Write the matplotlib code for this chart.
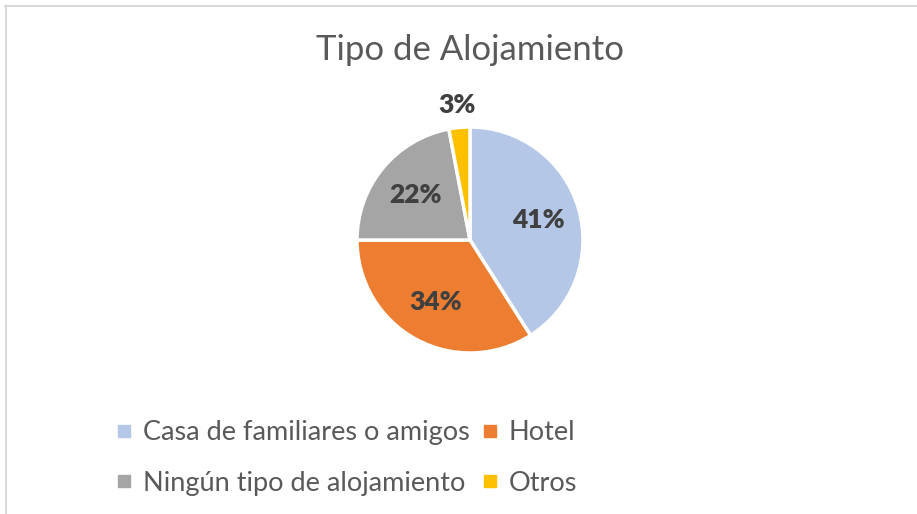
import matplotlib
matplotlib.use("Agg")
import matplotlib.pyplot as plt
from matplotlib.lines import Line2D
import numpy as np

categories = ["Casa de familiares o amigos", "Hotel", "Ningún tipo de alojamiento", "Otros"]
values = [41, 34, 22, 3]
colors = ["#B4C7E7", "#ED7D31", "#A5A5A5", "#FFC000"]
title = "Tipo de Alojamiento"

plt.rcParams['font.family'] = ['Lato', 'DejaVu Sans']

W, H = 917, 514
fig = plt.figure(figsize=(W / 100, H / 100), dpi=100)

# chart border (top and left visible)
fig.add_artist(Line2D([5 / W, 1], [1 - 5.5 / H, 1 - 5.5 / H], color="#D9D9D9", lw=1.5))
fig.add_artist(Line2D([5.5 / W, 5.5 / W], [0, 1 - 5.5 / H], color="#D9D9D9", lw=1.5))

cx, cy, r = 470, 240, 113
ax = fig.add_axes([(cx - r) / W, (H - cy - r) / H, 2 * r / W, 2 * r / H])
wedges, texts, autotexts = ax.pie(
    values, colors=colors, startangle=90, counterclock=False, radius=1,
    autopct=lambda p: f"{p:.0f}%", pctdistance=0.63,
    wedgeprops=dict(edgecolor="white", linewidth=2.5),
    textprops=dict(color="#404040", fontsize=19, fontweight="heavy"))
ax.set_xlim(-1, 1)
ax.set_ylim(-1, 1)
ax.set_aspect("equal")
ax.axis("off")

# small slice label outside
total = sum(values)
for w, t, v in zip(wedges, autotexts, values):
    if v / total < 0.05:
        ang = np.deg2rad((w.theta1 + w.theta2) / 2)
        t.set_position((1.2 * np.cos(ang), 1.2 * np.sin(ang)))

fig.text(470 / W, 1 - 50 / H, title, ha="center", va="center", fontsize=25, color="#595959")

order = [0, 2, 1, 3]
handles = [Line2D([], [], marker="s", linestyle="none", markersize=8,
                  markerfacecolor=colors[i], markeredgecolor=colors[i]) for i in order]
labels = [categories[i] for i in order]
leg = fig.legend(handles, labels, loc="center left", bbox_to_anchor=(117 / W, 1 - 458 / H),
                 ncol=2, frameon=False, fontsize=19.5, labelcolor="#595959",
                 handlelength=0.5, handletextpad=0.45, columnspacing=0.5, labelspacing=0.95,
                 borderpad=0, borderaxespad=0)

fig.savefig("out.png", dpi=100, facecolor="white")
